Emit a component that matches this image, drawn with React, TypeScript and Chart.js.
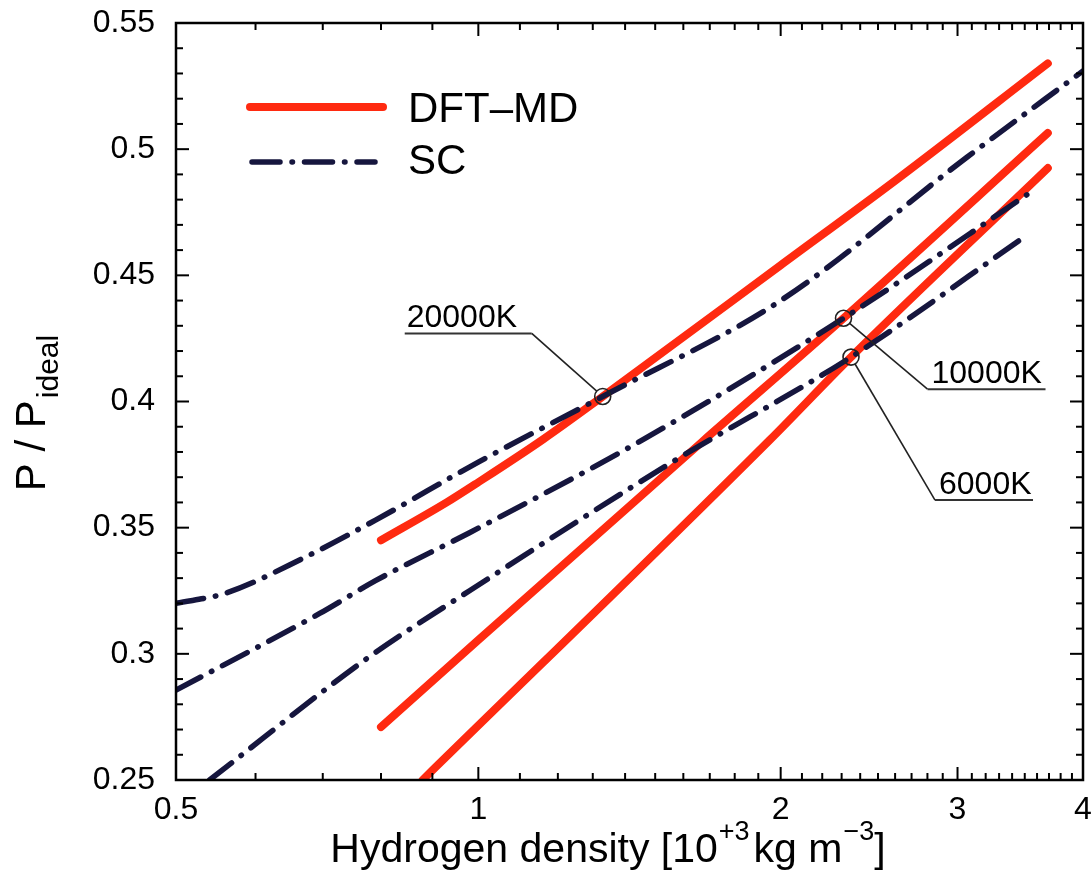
import React, { useEffect, useRef } from 'react';
import { Chart, registerables } from 'chart.js';

Chart.register(...registerables);

const FONT = '"Liberation Sans", Arial, Helvetica, sans-serif';
const RED = '#ff2a10';
const NAVY = '#16163e';

// DFT-MD isotherms: hydrogen density [10^3 kg/m^3] vs P / P_ideal
const dft20000Density = [0.8, 0.93, 1.0, 1.16, 1.33, 2.0, 2.61, 3.69];
const dft20000Ratio = [0.345, 0.36, 0.368, 0.385, 0.402, 0.454, 0.488, 0.534];
const dft10000Density = [0.8, 1.0, 1.67, 2.31, 3.69];
const dft10000Ratio = [0.271, 0.3055, 0.384, 0.433, 0.5064];
const dft6000Density = [0.88, 1.95, 2.35, 3.69];
const dft6000Ratio = [0.25, 0.3847, 0.4176, 0.4925];

// SC isotherms
const sc20000Density = [0.5, 0.56, 0.67, 0.79, 1.0, 1.33, 2.0, 3.07, 4.0];
const sc20000Ratio = [0.32, 0.324, 0.338, 0.353, 0.376, 0.402, 0.44, 0.497, 0.531];
const sc10000Density = [0.5, 0.695, 0.79, 0.98, 1.46, 2.31, 3.58];
const sc10000Ratio = [0.2856, 0.316, 0.329, 0.348, 0.385, 0.433, 0.484];
const sc6000Density = [0.54, 0.78, 0.98, 1.56, 2.35, 3.52];
const sc6000Ratio = [0.25, 0.299, 0.325, 0.376, 0.4176, 0.466];

// Crossing points of the two models, marked with a circle and a label
const markerLabels = ['20000K', '10000K', '6000K'];
const markerDensity = [1.33, 2.31, 2.35];
const markerRatio = [0.402, 0.433, 0.4176];

const xMajorTicks = [0.5, 1, 2, 3, 4];
const xTickLabels = ['0.5', '1', '2', '3', '4'];
const xMinorTicks = [
  0.6, 0.7, 0.8, 0.9,
  1.1, 1.2, 1.3, 1.4, 1.5, 1.6, 1.7, 1.8, 1.9,
  2.1, 2.2, 2.3, 2.4, 2.5, 2.6, 2.7, 2.8, 2.9,
  3.1, 3.2, 3.3, 3.4, 3.5, 3.6, 3.7, 3.8, 3.9,
];
const yMajorTicks = [0.25, 0.3, 0.35, 0.4, 0.45, 0.5, 0.55];
const yTickLabels = ['0.25', '0.3', '0.35', '0.4', '0.45', '0.5', '0.55'];
const yMinorTicks = [
  0.26, 0.27, 0.28, 0.29, 0.31, 0.32, 0.33, 0.34, 0.36, 0.37, 0.38, 0.39,
  0.41, 0.42, 0.43, 0.44, 0.46, 0.47, 0.48, 0.49, 0.51, 0.52, 0.53, 0.54,
];

// Label placement relative to each marker circle (pixels)
const markerLayout = [
  { dx: -71, dy: -63, len: 127, dir: -1 },
  { dx: 84, dy: 71, len: 118, dir: 1 },
  { dx: 84, dy: 143, len: 98, dir: 1 },
];

const SC_DASH = [28, 12, 0.5, 12];

const toPoints = (xs: number[], ys: number[]) => xs.map((x, i) => ({ x, y: ys[i] }));

const dftStyle = {
  borderColor: RED,
  borderWidth: 8,
  borderCapStyle: 'round' as const,
  borderJoinStyle: 'round' as const,
  pointRadius: 0,
  cubicInterpolationMode: 'monotone' as const,
  order: 1,
};
const scStyle = {
  borderColor: NAVY,
  borderWidth: 5.5,
  borderDash: SC_DASH,
  borderCapStyle: 'round' as const,
  borderJoinStyle: 'round' as const,
  pointRadius: 0,
  cubicInterpolationMode: 'monotone' as const,
  order: 0,
};

const decorPlugin = {
  id: 'decor',
  afterDraw(chart: any) {
    const { ctx, chartArea: a, scales } = chart;
    const xs = scales.x;
    const ys = scales.y;
    const seg = (x1: number, y1: number, x2: number, y2: number) => {
      ctx.beginPath();
      ctx.moveTo(x1, y1);
      ctx.lineTo(x2, y2);
      ctx.stroke();
    };
    ctx.save();

    // inward tick marks on all four sides
    ctx.strokeStyle = '#000';
    ctx.lineWidth = 2;
    ctx.lineCap = 'butt';
    for (const v of xMinorTicks) {
      const p = xs.getPixelForValue(v);
      seg(p, a.bottom, p, a.bottom - 7);
      seg(p, a.top, p, a.top + 7);
    }
    for (const v of xMajorTicks) {
      const p = xs.getPixelForValue(v);
      seg(p, a.bottom, p, a.bottom - 13);
      seg(p, a.top, p, a.top + 13);
    }
    for (const v of yMinorTicks) {
      const p = ys.getPixelForValue(v);
      seg(a.left, p, a.left + 7, p);
      seg(a.right, p, a.right - 7, p);
    }
    for (const v of yMajorTicks) {
      const p = ys.getPixelForValue(v);
      seg(a.left, p, a.left + 13, p);
      seg(a.right, p, a.right - 13, p);
    }
    ctx.lineWidth = 2.5;
    ctx.strokeRect(a.left, a.top, a.right - a.left, a.bottom - a.top);

    // crossing markers with leader lines and underlined labels
    const R = 8;
    ctx.font = `32px ${FONT}`;
    ctx.textBaseline = 'alphabetic';
    ctx.textAlign = 'left';
    markerLabels.forEach((label, i) => {
      const cx = xs.getPixelForValue(markerDensity[i]);
      const cy = ys.getPixelForValue(markerRatio[i]);
      const L = markerLayout[i];
      const ex = cx + L.dx;
      const ey = cy + L.dy;
      ctx.strokeStyle = '#222';
      ctx.lineWidth = 1.6;
      ctx.beginPath();
      ctx.arc(cx, cy, R, 0, Math.PI * 2);
      ctx.stroke();
      const ang = Math.atan2(ey - cy, ex - cx);
      seg(cx + R * Math.cos(ang), cy + R * Math.sin(ang), ex, ey);
      ctx.strokeStyle = '#333';
      ctx.lineWidth = 2;
      const ux = ex + L.dir * L.len;
      seg(ex, ey, ux, ey);
      ctx.fillStyle = '#000';
      const tx = Math.min(ex, ux) + (L.dir < 0 ? 2 : 4);
      ctx.fillText(label, tx, ey - 6);
    });

    // legend
    ctx.lineCap = 'round';
    ctx.strokeStyle = RED;
    ctx.lineWidth = 8;
    seg(250, 107, 383, 107);
    ctx.strokeStyle = NAVY;
    ctx.lineWidth = 5.5;
    ctx.setLineDash(SC_DASH);
    seg(252, 162, 375, 162);
    ctx.setLineDash([]);
    ctx.fillStyle = '#000';
    ctx.font = `42px ${FONT}`;
    ctx.fillText('DFT\u2013MD', 408, 122);
    ctx.fillText('SC', 408, 174);

    // y-axis title with subscript
    ctx.save();
    ctx.font = `42px ${FONT}`;
    const mainY = 'P / P';
    const wMain = ctx.measureText(mainY).width;
    ctx.font = `30px ${FONT}`;
    const wSub = ctx.measureText('ideal').width;
    const total = wMain + 2 + wSub;
    ctx.translate(45, 413 + total / 2);
    ctx.rotate(-Math.PI / 2);
    ctx.font = `42px ${FONT}`;
    ctx.fillText(mainY, 0, 0);
    ctx.font = `30px ${FONT}`;
    ctx.fillText('ideal', wMain + 2, 13);
    ctx.restore();

    // x-axis title with superscripts
    const parts: { t: string; sup: boolean; gap: number }[] = [
      { t: 'Hydrogen density [10', sup: false, gap: 0 },
      { t: '+3', sup: true, gap: 1 },
      { t: 'kg m', sup: false, gap: 4 },
      { t: '\u22123', sup: true, gap: 1 },
      { t: ']', sup: false, gap: 0 },
    ];
    const widths = parts.map((p) => {
      ctx.font = p.sup ? `27px ${FONT}` : `41px ${FONT}`;
      return ctx.measureText(p.t).width + p.gap;
    });
    const tw = widths.reduce((s, w) => s + w, 0);
    let x = 608 - tw / 2;
    const base = 862;
    parts.forEach((p, i) => {
      ctx.font = p.sup ? `27px ${FONT}` : `41px ${FONT}`;
      x += p.gap;
      ctx.fillText(p.t, x, p.sup ? base - 22 : base);
      x += widths[i] - p.gap;
    });

    ctx.restore();
  },
};

export default function App() {
  const canvasRef = useRef<HTMLCanvasElement | null>(null);

  useEffect(() => {
    const canvas = canvasRef.current;
    if (!canvas) return;
    const chart = new Chart(canvas, {
      type: 'line',
      data: {
        datasets: [
          { label: 'SC 20000K', data: toPoints(sc20000Density, sc20000Ratio), ...scStyle },
          { label: 'SC 10000K', data: toPoints(sc10000Density, sc10000Ratio), ...scStyle },
          { label: 'SC 6000K', data: toPoints(sc6000Density, sc6000Ratio), ...scStyle },
          { label: 'DFT-MD 20000K', data: toPoints(dft20000Density, dft20000Ratio), ...dftStyle },
          { label: 'DFT-MD 10000K', data: toPoints(dft10000Density, dft10000Ratio), ...dftStyle },
          { label: 'DFT-MD 6000K', data: toPoints(dft6000Density, dft6000Ratio), ...dftStyle },
        ],
      },
      options: {
        responsive: false,
        animation: false,
        devicePixelRatio: 1,
        layout: { padding: { left: 0, right: 8, top: 23, bottom: 0 } },
        plugins: { legend: { display: false }, tooltip: { enabled: false } },
        scales: {
          x: {
            type: 'logarithmic',
            min: 0.5,
            max: 4,
            grid: { display: false, drawTicks: false },
            border: { display: false },
            afterBuildTicks: (scale: any) => {
              scale.ticks = xMajorTicks.map((v) => ({ value: v }));
            },
            afterFit: (scale: any) => {
              scale.height = 94;
              scale.paddingLeft = 0;
              scale.paddingRight = 0;
            },
            ticks: {
              autoSkip: false,
              maxRotation: 0,
              minRotation: 0,
              padding: 11,
              color: '#000',
              font: { family: FONT, size: 32 },
              callback: (value: any) => {
                const i = xMajorTicks.findIndex((v) => Math.abs(v - Number(value)) < 1e-9);
                return i >= 0 ? xTickLabels[i] : '';
              },
            },
          },
          y: {
            type: 'linear',
            min: 0.25,
            max: 0.55,
            grid: { display: false, drawTicks: false },
            border: { display: false },
            afterBuildTicks: (scale: any) => {
              scale.ticks = yMajorTicks.map((v) => ({ value: v }));
            },
            afterFit: (scale: any) => {
              scale.width = 176;
              scale.paddingTop = 0;
              scale.paddingBottom = 0;
            },
            ticks: {
              padding: 21,
              color: '#000',
              font: { family: FONT, size: 32 },
              callback: (value: any) => {
                const i = yMajorTicks.findIndex((v) => Math.abs(v - Number(value)) < 1e-9);
                return i >= 0 ? yTickLabels[i] : '';
              },
            },
          },
        },
      },
      plugins: [decorPlugin],
    });
    return () => chart.destroy();
  }, []);

  return (
    <div style={{ position: 'absolute', left: 0, top: 0, width: 1091, height: 874, background: '#fff' }}>
      <canvas ref={canvasRef} width={1091} height={874} />
    </div>
  );
}
